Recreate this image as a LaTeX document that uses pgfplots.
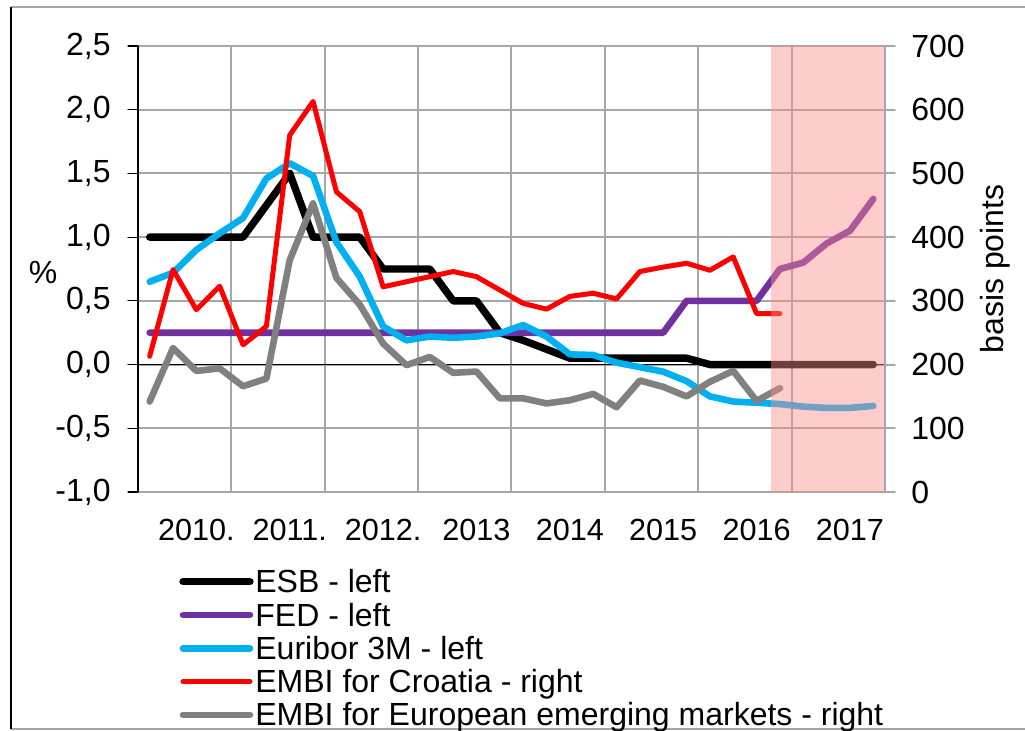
\documentclass[border=0pt]{standalone}
\usepackage{fontspec}
\setmainfont{Liberation Sans}
\usepackage{pgfplots}
\usepackage{pgfplotstable}
\pgfplotsset{compat=1.18}
\definecolor{fedpurple}{HTML}{7030A0}
\definecolor{euriblue}{HTML}{00B0F0}
\definecolor{shadecol}{RGB}{255,140,140}
\definecolor{gridgray}{RGB}{166,166,166}
\definecolor{embigray}{HTML}{808080}

\pgfplotstableread{
x esb fed eur
0 1.00 0.25 0.65
1 1.00 0.25 0.72
2 1.00 0.25 0.90
3 1.00 0.25 1.03
4 1.00 0.25 1.15
5 1.25 0.25 1.46
6 1.50 0.25 1.58
7 1.00 0.25 1.48
8 1.00 0.25 0.96
9 1.00 0.25 0.69
10 0.75 0.25 0.30
11 0.75 0.25 0.19
12 0.75 0.25 0.22
13 0.50 0.25 0.21
14 0.50 0.25 0.22
15 0.25 0.25 0.245
16 0.19 0.25 0.31
17 0.12 0.25 0.22
18 0.05 0.25 0.08
19 0.05 0.25 0.075
20 0.05 0.25 0.015
21 0.05 0.25 -0.02
22 0.05 0.25 -0.056
23 0.05 0.50 -0.13
24 0.00 0.50 -0.25
25 0.00 0.50 -0.29
26 0.00 0.50 -0.30
27 0.00 0.75 -0.31
28 0.00 0.80 -0.33
29 0.00 0.95 -0.34
30 0.00 1.05 -0.34
31 0.00 1.30 -0.325
}\lefttab

\pgfplotstableread{
x cro eem
0 213 142
1 349 226
2 286 190
3 323 194
4 231 166
5 260 178
6 560 364
7 613 453
8 471 336
9 440 294
10 322 233
11 330 199
12 338 212
13 346 187
14 338 189
15 317 147
16 296 147
17 287 139
18 307 144
19 312 154
20 303 133
21 346 175
22 353 165
23 359 150
24 348 173
25 369 190
26 280 143
27 280 163
}\righttab

\begin{document}
\begin{tikzpicture}
\useasboundingbox (0,0) rectangle (512.5pt,365.5pt);
% chart frame
\draw[gridgray, line width=1pt] (5.5pt,362pt) -- (512.5pt,362pt);
\draw[gridgray, line width=1pt] (5.5pt,0.8pt) -- (512.5pt,0.8pt);
\draw[black, line width=0.6pt] (5.5pt,0.8pt) -- (5.5pt,362pt);

\begin{axis}[
  at={(69pt,119.5pt)}, anchor=south west,
  scale only axis, width=373.5pt, height=223pt,
  xmin=-0.5, xmax=31.5, ymin=-1, ymax=2.5,
  axis x line*=bottom, axis y line*=left,
  x axis line style={draw=none},
  y axis line style={black, line width=0.6pt},
  xtick={3.5,7.5,11.5,15.5,19.5,23.5,27.5}, xticklabels={},
  xmajorgrids,
  extra x ticks={2,6,10,14,18,22,26,30},
  extra x tick labels={2010.,2011.,2012.,2013,2014,2015,2016,2017},
  extra x tick style={grid=none},
  xtick style={draw=none},
  xticklabel style={font=\fontsize{15.3}{17}\selectfont, anchor=base, yshift=-19.5pt},
  ytick={-1,-0.5,0,0.5,1,1.5,2,2.5},
  yticklabels={{-1,0},{-0,5},{0,0},{0,5},{1,0},{1,5},{2,0},{2,5}},
  yticklabel style={font=\fontsize{16}{18}\selectfont, anchor=east, inner sep=0pt, xshift=-8.5pt},
  ymajorgrids,
  major grid style={gridgray, line width=1pt},
  tick align=outside,
  ytick style={black, line width=0.6pt},
  major tick length=5pt,
  ylabel={\%},
  every axis y label/.style={at={(axis description cs:-0.127,0.493)}, anchor=center, font=\fontsize{16}{18}\selectfont},
  line join=round, line cap=round,
]
\draw[black, line width=0.6pt] (axis cs:-0.5,0) -- (axis cs:31.5,0);
\addplot[black, line width=3.7pt, no marks] table[x=x, y=esb] {\lefttab};
\addplot[fedpurple, line width=3.3pt, no marks] table[x=x, y=fed] {\lefttab};
\addplot[euriblue, line width=3.3pt, no marks] table[x=x, y=eur] {\lefttab};
\end{axis}

\begin{axis}[
  at={(69pt,119.5pt)}, anchor=south west,
  scale only axis, width=373.5pt, height=223pt,
  xmin=-0.5, xmax=31.5, ymin=0, ymax=700,
  axis x line=none, axis y line*=right,
  y axis line style={gridgray, line width=1pt},
  ytick={0,100,200,300,400,500,600,700},
  yticklabels={0,100,200,300,400,500,600,700},
  yticklabel style={font=\fontsize{16}{18}\selectfont, anchor=west, inner sep=0pt, xshift=8pt},
  tick align=outside,
  ytick style={gridgray, line width=1pt},
  major tick length=5pt,
  ylabel={basis points},
  every axis y label/.style={at={(axis description cs:1.147,0.5)}, anchor=center, rotate=90, font=\fontsize{16}{18}\selectfont},
  line join=round, line cap=round,
]
\addplot[red, line width=2.5pt, no marks] table[x=x, y=cro] {\righttab};
\addplot[embigray, line width=3.3pt, no marks] table[x=x, y=eem] {\righttab};
\addplot[draw=none, fill=shadecol, fill opacity=0.44, forget plot] coordinates {(26.63,700) (31.45,700)} \closedcycle;
\end{axis}

% legend
\begin{scope}[line cap=round]
\draw[black, line width=3.7pt] (91.5pt,74.65pt) -- (125pt,74.65pt);
\draw[fedpurple, line width=3.3pt] (91.5pt,58pt) -- (125pt,58pt);
\draw[euriblue, line width=3.3pt] (91.5pt,41.35pt) -- (125pt,41.35pt);
\draw[red, line width=2.5pt] (91.5pt,24.7pt) -- (125pt,24.7pt);
\draw[embigray, line width=3.3pt] (91.5pt,8.05pt) -- (125pt,8.05pt);
\end{scope}
\begin{scope}[every node/.style={anchor=base west, inner sep=0pt, font=\fontsize{16}{18}\selectfont}]
\node at (127.5pt,69.1pt) {ESB - left};
\node at (127.5pt,52.45pt) {FED - left};
\node at (127.5pt,35.8pt) {Euribor 3M - left};
\node at (127.5pt,19.15pt) {EMBI for Croatia - right};
\node at (127.5pt,2.5pt) {EMBI for European emerging markets - right};
\end{scope}
\end{tikzpicture}
\end{document}
